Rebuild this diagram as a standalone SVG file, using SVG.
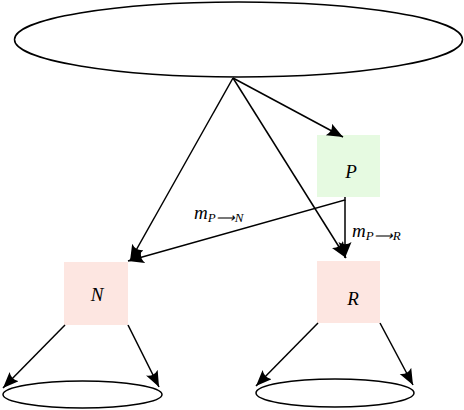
<svg xmlns="http://www.w3.org/2000/svg" width="464" height="410" viewBox="0 0 464 410">
<style>
.ell{fill:none;stroke:#000;stroke-width:1.5}
.edge{fill:none;stroke:#000;stroke-width:1.5}
.lbl{font-family:"Liberation Serif",serif;font-style:italic;font-size:19px;fill:#000}
.m{font-family:"Liberation Serif",serif;font-style:italic;font-size:19px;fill:#000}
.sub{font-family:"Liberation Serif",serif;font-style:italic;font-size:13px;fill:#000}
</style>
<defs>
<marker id="ah" markerUnits="userSpaceOnUse" markerWidth="20" markerHeight="16" refX="16" refY="6.5" orient="auto">
<path d="M0,0 Q4.5,6.5 0,13 L16,6.5 Z" fill="#000"/>
</marker>
</defs>
<g id="top"><ellipse class="ell" cx="238.5" cy="39.5" rx="224" ry="37.5"/></g>
<g id="P"><rect x="317" y="135" width="63" height="62" fill="#e6fae1"/><text class="lbl" x="351" y="178" text-anchor="middle">P</text></g>
<g id="N"><rect x="64" y="262" width="64" height="63" fill="#fde6e1"/><text class="lbl" x="97" y="301" text-anchor="middle">N</text></g>
<g id="R"><rect x="317" y="261" width="63" height="62" fill="#fde6e1"/><text class="lbl" x="353" y="305" text-anchor="middle">R</text></g>
<g id="leftleaf"><ellipse class="ell" cx="82.5" cy="394.5" rx="79.5" ry="13.5"/></g>
<g id="rightleaf"><ellipse class="ell" cx="335" cy="393" rx="79" ry="14"/></g>
<g id="connectors">
<line class="edge" x1="233" y1="78" x2="343" y2="137" marker-end="url(#ah)"/>
<line class="edge" x1="233" y1="78" x2="130" y2="261" marker-end="url(#ah)"/>
<line class="edge" x1="233" y1="78" x2="346" y2="258" marker-end="url(#ah)"/>
<polyline class="edge" points="345,197 345,200 128,261" marker-end="url(#ah)"/>
<line class="edge" x1="345" y1="200" x2="345" y2="258" marker-end="url(#ah)"/>
<line class="edge" x1="65" y1="325" x2="3" y2="388" marker-end="url(#ah)"/>
<line class="edge" x1="128" y1="325" x2="159" y2="387" marker-end="url(#ah)"/>
<line class="edge" x1="318" y1="323" x2="256" y2="386" marker-end="url(#ah)"/>
<line class="edge" x1="380" y1="323" x2="413" y2="385" marker-end="url(#ah)"/>
<text x="194" y="219"><tspan class="m">m</tspan><tspan class="sub" dy="3">P⟶N</tspan></text>
<text x="352" y="237"><tspan class="m">m</tspan><tspan class="sub" dy="3">P⟶R</tspan></text>
</g>
</svg>
